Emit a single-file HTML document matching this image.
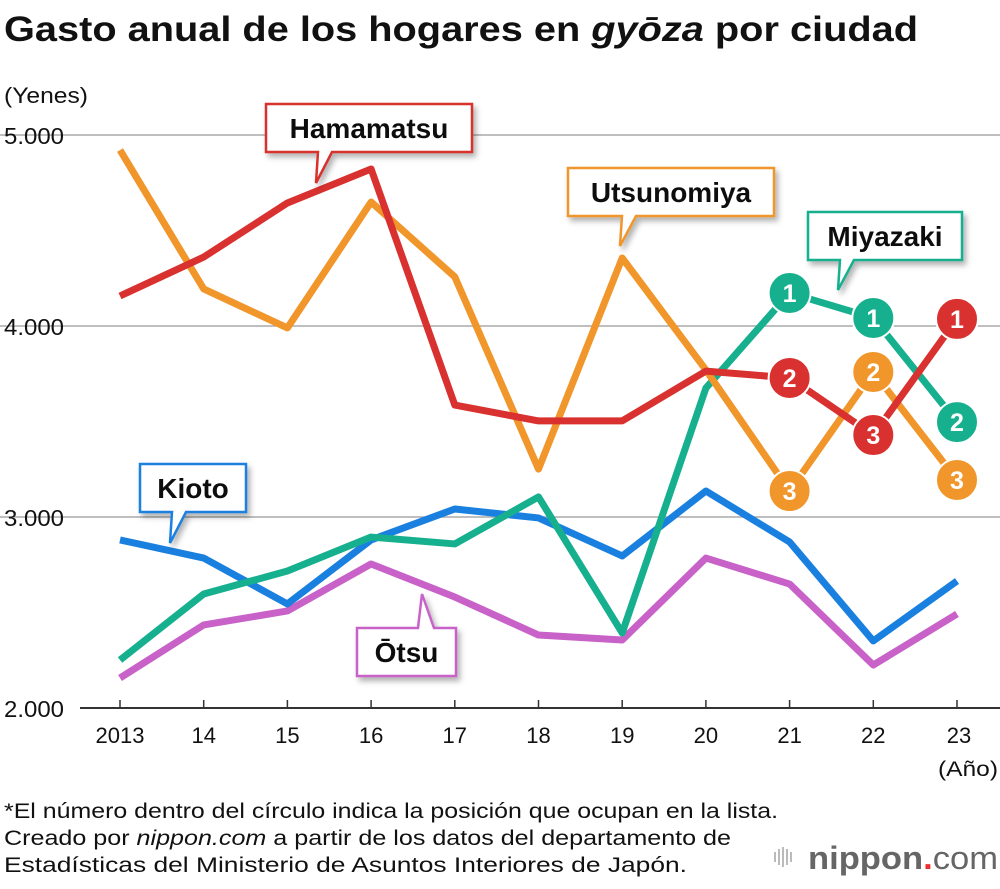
<!DOCTYPE html>
<html><head><meta charset="utf-8">
<style>
body{margin:0;background:#fff;width:1000px;height:884px;overflow:hidden;font-family:"Liberation Sans",sans-serif;}
svg text{font-family:"Liberation Sans",sans-serif;}
</style></head>
<body>
<svg id="chart" width="1000" height="884" viewBox="0 0 1000 884">
<defs><filter id="sh" x="-10%" y="-10%" width="130%" height="150%"><feDropShadow dx="3" dy="4" stdDeviation="3" flood-color="#000" flood-opacity="0.3"/></filter></defs>
<text x="4" y="41" font-size="35" font-weight="bold" fill="#111" textLength="914" lengthAdjust="spacingAndGlyphs">Gasto anual de los hogares en <tspan font-style="italic">gyōza</tspan> por ciudad</text>
<text x="4" y="103" font-size="22" fill="#111" textLength="84" lengthAdjust="spacingAndGlyphs">(Yenes)</text>
<g id="grid"></g>
<g id="series"></g>
<g id="callouts"></g>
<text x="938" y="776" font-size="21" fill="#111" textLength="60" lengthAdjust="spacingAndGlyphs">(Año)</text>
<text x="4" y="818" font-size="21" fill="#111" textLength="774" lengthAdjust="spacingAndGlyphs">*El número dentro del círculo indica la posición que ocupan en la lista.</text>
<text x="4" y="845" font-size="21" fill="#111" textLength="727" lengthAdjust="spacingAndGlyphs">Creado por <tspan font-style="italic">nippon.com</tspan> a partir de los datos del departamento de</text>
<text x="4" y="872" font-size="21" fill="#111" textLength="683" lengthAdjust="spacingAndGlyphs">Estadísticas del Ministerio de Asuntos Interiores de Japón.</text>
<g>
<g fill="#bbb"><rect x="774" y="852" width="2" height="10"/><rect x="778" y="849" width="2" height="16"/><rect x="782" y="847" width="2" height="20"/><rect x="786" y="849" width="2" height="16"/><rect x="790" y="852" width="2" height="10"/></g>
<text x="808" y="869" font-size="32" fill="#666" font-weight="bold" textLength="190" lengthAdjust="spacingAndGlyphs">nippon<tspan fill="#e8312f">.</tspan><tspan font-weight="normal">com</tspan></text>
</g>
</svg>
<script>
const years=["2013","14","15","16","17","18","19","20","21","22","23"];
const yTicks=[2000,3000,4000,5000];
const yTickLabels=["2.000","3.000","4.000","5.000"];
const hamamatsu=[4157,4361,4644,4822,3586,3503,3503,3764,3728,3429,4037];
const utsunomiya=[4921,4194,3990,4649,4257,3251,4356,3770,3136,3759,3194];
const miyazaki=[2251,2597,2717,2895,2859,3105,2393,3675,4173,4042,3497];
const kyoto=[2880,2785,2545,2880,3042,2995,2796,3136,2869,2351,2665];
const otsu=[2157,2435,2508,2754,2581,2382,2356,2785,2649,2225,2492];
const hamamatsuRanks=[null,null,null,null,null,null,null,null,2,3,1];
const utsunomiyaRanks=[null,null,null,null,null,null,null,null,3,2,3];
const miyazakiRanks=[null,null,null,null,null,null,null,null,1,1,2];
const NS="http://www.w3.org/2000/svg";
const x=i=>120+i*83.7;
const y=v=>708-(v-2000)*0.191;
function el(tag,attrs,parent){const e=document.createElementNS(NS,tag);for(const k in attrs)e.setAttribute(k,attrs[k]);parent.appendChild(e);return e;}
const grid=document.getElementById('grid');
yTicks.forEach((t,i)=>{
  const l=el('line',{x1:i==0?80:0,x2:1000,y1:y(t),y2:y(t),stroke:i==0?'#333':'#aaa','stroke-width':i==0?2:1.5},grid);
  
  
  const tx=el('text',{x:4,y:y(t)+9,'font-size':23,fill:'#111',textLength:60,lengthAdjust:'spacingAndGlyphs'},grid);tx.textContent=yTickLabels[i];
  
  
});
years.forEach((yr,i)=>{
  const tk=el('line',{x1:x(i),x2:x(i),y1:708,y2:700,stroke:'#333','stroke-width':1.5},grid);
  
  
  const tx=el('text',{x:x(i)+(i==10?2:0),y:743,'font-size':22,fill:'#111','text-anchor':'middle'},grid);tx.textContent=yr;
  
  
});
const sg=document.getElementById('series');
const series=[["otsu",otsu,"#c862c8",null],["kyoto",kyoto,"#1a80e0",null],["miyazaki",miyazaki,"#17b08f",miyazakiRanks],["utsunomiya",utsunomiya,"#f0962a",utsunomiyaRanks],["hamamatsu",hamamatsu,"#d8312f",hamamatsuRanks]];
series.forEach(([n,d,c,r])=>{
  const p=el('polyline',{points:d.map((v,i)=>x(i)+','+y(v)).join(' '),fill:'none',stroke:c,'stroke-width':7,'stroke-linejoin':'round'},sg);
  
  
});
series.forEach(([n,d,c,r])=>{
  if(!r)return;
  r.forEach((rk,i)=>{
    if(rk==null)return;
    const g=el('g',{},sg);
    
    
    el('circle',{cx:x(i),cy:y(d[i]),r:21,fill:c,stroke:'#fff','stroke-width':2},g);
    const t=el('text',{x:x(i),y:y(d[i])+9,'font-size':25,'font-weight':'bold',fill:'#fff','text-anchor':'middle'},g);t.textContent=rk;
  });
});
const cg=document.getElementById('callouts');
function callout(name,label,bx,by,w,h,px,py,c,up){
  const g=el('g',{filter:'url(#sh)'},cg);
  
  
  let d;
  if(!up) d=`M${bx},${by} H${bx+w} V${by+h} H${px+16} L${px},${py} L${px+2},${by+h} H${bx} Z`;
  else d=`M${bx},${by} H${px-4} L${px},${py} L${px+12},${by} H${bx+w} V${by+h} H${bx} Z`;
  el('path',{d:d,fill:'#fff',stroke:c,'stroke-width':2.5},g);
  const t=el('text',{x:bx+w/2,y:by+h/2+10,'font-size':28,'font-weight':'bold',fill:'#111','text-anchor':'middle'},g);t.textContent=label;
}
callout('hamamatsu','Hamamatsu',266,104,206,48,316,183,'#d8312f',false);
callout('utsunomiya','Utsunomiya',568,168,206,48,620,246,'#f0962a',false);
callout('miyazaki','Miyazaki',808,212,154,48,838,290,'#17b08f',false);
callout('kyoto','Kioto',140,464,106,48,170,543,'#1a80e0',false);
callout('otsu','Ōtsu',357,628,99,48,422,594,'#c862c8',true);
</script>
</body></html>
